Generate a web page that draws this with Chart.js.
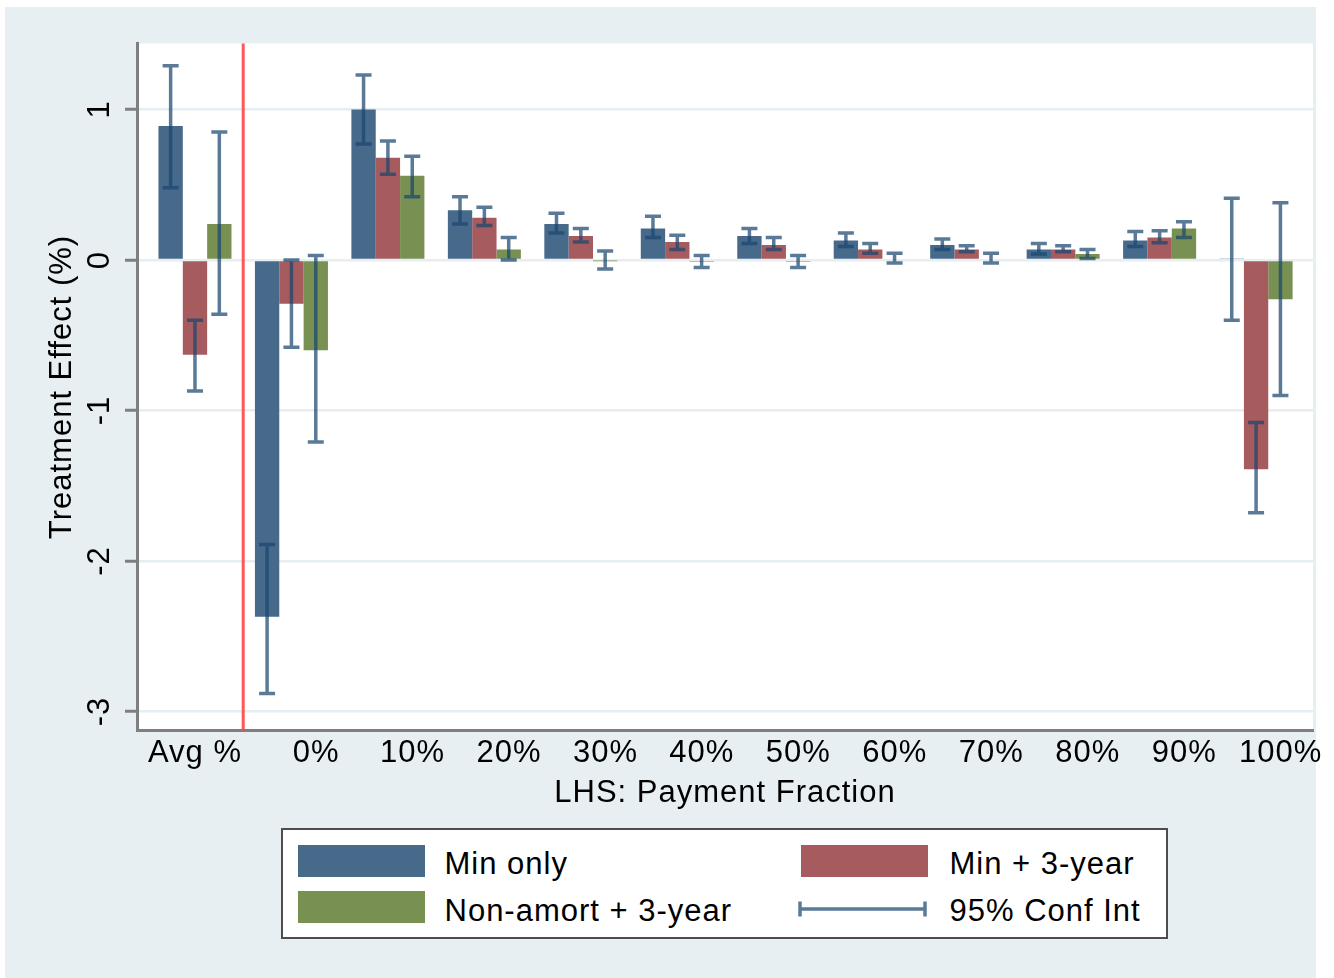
<!DOCTYPE html>
<html>
<head>
<meta charset="utf-8">
<script src="https://cdn.jsdelivr.net/npm/chart.js@4.4.1/dist/chart.umd.min.js"></script>
<style>
html,body{margin:0;padding:0;background:#fff;}
#wrap{position:relative;width:1334px;height:978px;overflow:hidden;}
#chart{position:absolute;left:0;top:0;}
#legend{position:absolute;left:281px;top:828px;width:883px;height:107px;border:2.5px solid #4d4d4d;background:#fff;
  font-family:'Liberation Sans',Arial,sans-serif;font-size:31px;color:#000;letter-spacing:1px;}
.sw{position:absolute;width:127px;height:32px;}
.lt{position:absolute;line-height:31px;white-space:nowrap;}
</style>
</head>
<body>
<div id="wrap">
<canvas id="chart" width="1334" height="978"></canvas>
<div id="legend"></div>
</div>
<script>
// ---------------- data ----------------
const categories = ['Avg %', '0%', '10%', '20%', '30%', '40%', '50%', '60%', '70%', '80%', '90%', '100%'];
const seriesNames = ['Min only', 'Min + 3-year', 'Non-amort + 3-year'];
const ciLabel = '95% Conf Int';
const yTicks = [-3, -2, -1, 0, 1];

const minOnly      = [0.89, -2.37, 1.00, 0.33, 0.24, 0.21, 0.16, 0.13, 0.10, 0.07, 0.13, 0.01];
const minOnlyLow   = [0.48, -2.88, 0.77, 0.24, 0.18, 0.15, 0.11, 0.09, 0.07, 0.04, 0.09, -0.40];
const minOnlyHigh  = [1.29, -1.89, 1.23, 0.42, 0.31, 0.29, 0.21, 0.18, 0.14, 0.11, 0.19, 0.41];

const min3yr       = [-0.63, -0.29, 0.68, 0.28, 0.16, 0.12, 0.10, 0.07, 0.07, 0.07, 0.15, -1.39];
const min3yrLow    = [-0.87, -0.58, 0.57, 0.23, 0.12, 0.07, 0.07, 0.045, 0.055, 0.055, 0.115, -1.68];
const min3yrHigh   = [-0.40, 0.00, 0.79, 0.35, 0.21, 0.165, 0.15, 0.11, 0.095, 0.095, 0.195, -1.08];

const nonAmort     = [0.24, -0.60, 0.56, 0.07, -0.004, -0.012, -0.012, 0.008, 0.008, 0.04, 0.21, -0.26];
const nonAmortLow  = [-0.36, -1.21, 0.42, 0.00, -0.06, -0.05, -0.05, -0.02, -0.02, 0.01, 0.15, -0.90];
const nonAmortHigh = [0.85, 0.03, 0.69, 0.15, 0.06, 0.03, 0.03, 0.045, 0.045, 0.07, 0.255, 0.38];

// ---------------- style ----------------
const seriesColors = ['#476a8b', '#a65b5f', '#789153'];
const ciColor = 'rgba(26,71,111,0.72)';
const FONT = "'Liberation Sans', Arial, sans-serif";
const BG = '#e8eff2';

const datasets = [
  {label: seriesNames[0], data: minOnly,  ciLow: minOnlyLow,  ciHigh: minOnlyHigh,  backgroundColor: seriesColors[0]},
  {label: seriesNames[1], data: min3yr,   ciLow: min3yrLow,   ciHigh: min3yrHigh,   backgroundColor: seriesColors[1]},
  {label: seriesNames[2], data: nonAmort, ciLow: nonAmortLow, ciHigh: nonAmortHigh, backgroundColor: seriesColors[2]}
].map(d => Object.assign(d, {borderWidth: 0, categoryPercentage: 0.757, barPercentage: 1.0}));

const spacingPlugin = {
  id: 'spacing',
  beforeLayout(chart) { chart.ctx.letterSpacing = '1px'; },
  beforeDraw(chart) { chart.ctx.letterSpacing = '1px'; }
};

const bgPlugin = {
  id: 'bg',
  beforeDraw(chart) {
    const {ctx, chartArea: a} = chart;
    ctx.save();
    ctx.fillStyle = '#fff';
    ctx.fillRect(0, 0, chart.width, chart.height);
    ctx.fillStyle = BG;
    ctx.fillRect(5, 7, 1311, 971);
    ctx.fillStyle = '#fff';
    ctx.fillRect(a.left, a.top, a.right - a.left, a.bottom - a.top);
    ctx.restore();
  }
};

const dividerPlugin = {
  id: 'divider',
  beforeDatasetsDraw(chart) {
    const {ctx, chartArea: a, scales: {x}} = chart;
    const px = x.getPixelForValue(0.5);
    ctx.save();
    ctx.strokeStyle = 'rgba(255,70,70,0.9)';
    ctx.lineWidth = 3;
    ctx.beginPath();
    ctx.moveTo(px, a.top);
    ctx.lineTo(px, a.bottom);
    ctx.stroke();
    ctx.restore();
  }
};

const ciPlugin = {
  id: 'ci',
  afterDatasetsDraw(chart) {
    const {ctx, scales: {y}} = chart;
    ctx.save();
    ctx.strokeStyle = ciColor;
    ctx.lineWidth = 3.5;
    ctx.lineCap = 'butt';
    chart.data.datasets.forEach((ds, i) => {
      const meta = chart.getDatasetMeta(i);
      meta.data.forEach((bar, j) => {
        const x = bar.x;
        const y1 = y.getPixelForValue(ds.ciLow[j]);
        const y2 = y.getPixelForValue(ds.ciHigh[j]);
        ctx.beginPath();
        ctx.moveTo(x, y1); ctx.lineTo(x, y2);
        ctx.moveTo(x - 8, y1); ctx.lineTo(x + 8, y1);
        ctx.moveTo(x - 8, y2); ctx.lineTo(x + 8, y2);
        ctx.stroke();
      });
    });
    ctx.restore();
  }
};

new Chart(document.getElementById('chart'), {
  type: 'bar',
  data: {labels: categories.map((_, i) => i), datasets},
  plugins: [spacingPlugin, bgPlugin, dividerPlugin, ciPlugin],
  options: {
    responsive: false,
    animation: false,
    devicePixelRatio: 1,
    layout: {padding: {left: 0, top: 43.5, right: 21, bottom: 166}},
    plugins: {legend: {display: false}, tooltip: {enabled: false}},
    scales: {
      x: {
        type: 'linear',
        min: -0.601,
        max: 11.59,
        offset: false,
        grid: {display: false},
        border: {display: true, color: '#7f7f7f', width: 3},
        afterBuildTicks: s => { s.ticks = categories.map((c, i) => ({value: i === 0 ? 0 : i + 0.255})); },
        afterFit: s => { s.height = 81.5; },
        ticks: {
          autoSkip: false, maxRotation: 0, minRotation: 0, padding: -4,
          color: '#000', font: {family: FONT, size: 31},
          callback: (v, i) => categories[i]
        },
        title: {display: true, text: 'LHS: Payment Fraction', color: '#000',
          font: {family: FONT, size: 31}, padding: {top: 0, bottom: 0}}
      },
      y: {
        min: -3.126,
        max: 1.4385,
        afterBuildTicks: s => { s.ticks = yTicks.map(v => ({value: v})); },
        afterFit: s => { s.width = 137; },
        grid: {color: '#e6eef1', lineWidth: 2.5, drawTicks: true, tickLength: 12, tickColor: '#7f7f7f', tickWidth: 3},
        border: {display: true, color: '#7f7f7f', width: 3},
        ticks: {
          minRotation: 90, maxRotation: 90, crossAlign: 'center', padding: 10,
          color: '#000', font: {family: FONT, size: 31},
          callback: v => String(v)
        },
        title: {display: true, text: 'Treatment Effect (%)', color: '#000',
          font: {family: FONT, size: 31}, padding: {top: 44, bottom: 0}}
      }
    }
  }
});

// ---------------- legend (HTML) ----------------
const legend = document.getElementById('legend');
const slots = [
  {sx: 14.5, sy: 14.5, tx: 161.5, ty: 17.5},
  {sx: 517.5, sy: 14.5, tx: 666.5, ty: 17.5},
  {sx: 14.5, sy: 61, tx: 161.5, ty: 64.5}
];
seriesNames.forEach((name, i) => {
  const s = slots[i];
  const sw = document.createElement('div');
  sw.className = 'sw';
  sw.style.left = s.sx + 'px'; sw.style.top = s.sy + 'px'; sw.style.background = seriesColors[i];
  legend.appendChild(sw);
  const t = document.createElement('div');
  t.className = 'lt';
  t.style.left = s.tx + 'px'; t.style.top = s.ty + 'px';
  t.textContent = name;
  legend.appendChild(t);
});
const ciSym = document.createElementNS('http://www.w3.org/2000/svg', 'svg');
ciSym.setAttribute('width', '130'); ciSym.setAttribute('height', '18');
ciSym.style.position = 'absolute'; ciSym.style.left = '515px'; ciSym.style.top = '69.5px';
ciSym.innerHTML = '<path d="M2,1.5 V16.5 M2,9 H127 M127,1.5 V16.5" stroke="' + ciColor + '" stroke-width="3.5" fill="none"/>';
legend.appendChild(ciSym);
const ciT = document.createElement('div');
ciT.className = 'lt';
ciT.style.left = '666.5px'; ciT.style.top = '64.5px';
ciT.textContent = ciLabel;
legend.appendChild(ciT);
</script>
</body>
</html>
